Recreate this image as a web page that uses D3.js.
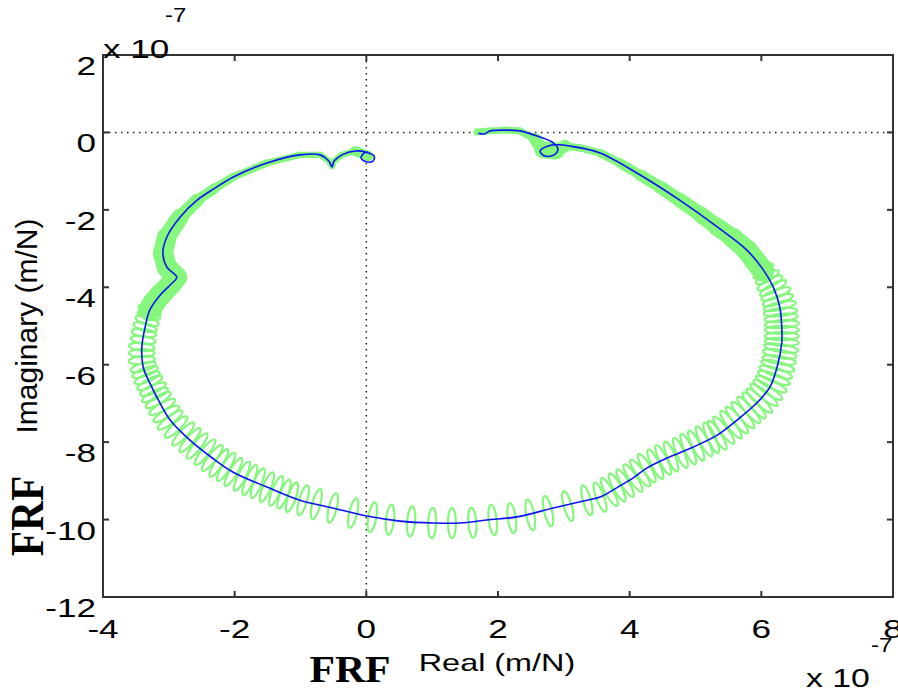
<!DOCTYPE html>
<html>
<head>
<meta charset="utf-8">
<script src="https://cdn.jsdelivr.net/npm/d3@7"></script>
<style>
  body { margin: 0; background: #fff; }
  text { font-family: "Liberation Sans", Arial, sans-serif; fill: #000; }
</style>
</head>
<body>
<svg width="898" height="691"></svg>
<script>
var svg = d3.select("svg");

// axis ticks (values in 1e-7 m/N)
var realTicks = [-4, -2, 0, 2, 4, 6, 8];
var realTickLabels = ["-4", "-2", "0", "2", "4", "6", "8"];
var imagTicks = [-12, -10, -8, -6, -4, -2, 0, 2];
var imagTickLabels = ["-12", "-10", "-8", "-6", "-4", "-2", "0", "2"];

// blue trace: fitted FRF, [real, imag] x 1e-7
var fitCurve = [
  [0.03,-0.51],[-0.03,-0.53],[-0.08,-0.66],[0.00,-0.76],[0.10,-0.74],[0.12,-0.61],[0.00,-0.51],
  [-0.17,-0.48],[-0.37,-0.58],[-0.49,-0.74],[-0.52,-0.89],[-0.57,-0.74],[-0.70,-0.58],[-1.01,-0.58],
  [-1.51,-0.79],[-2.02,-1.15],[-2.30,-1.44],[-2.57,-1.75],[-2.83,-2.19],[-3.03,-2.70],[-3.09,-3.12],
  [-3.03,-3.48],[-2.88,-3.74],[-2.98,-3.94],[-3.13,-4.20],[-3.29,-4.59],[-3.36,-5.03],[-3.41,-5.54],
  [-3.39,-6.06],[-3.29,-6.47],[-3.16,-6.91],[-2.98,-7.43],[-2.68,-7.95],[-2.34,-8.41],[-2.03,-8.77],
  [-1.51,-9.16],[-1.01,-9.50],[-0.51,-9.70],[0.01,-9.91],[0.51,-10.04],[1.01,-10.09],[1.42,-10.09],
  [1.83,-10.01],[2.29,-9.93],[2.84,-9.70],[3.35,-9.50],[3.55,-9.42],[3.85,-9.13],[4.05,-8.93],
  [4.26,-8.67],[4.57,-8.41],[4.96,-8.13],[5.33,-7.82],[5.63,-7.43],[5.93,-6.99],[6.13,-6.58],
  [6.24,-6.06],[6.31,-5.44],[6.31,-5.03],[6.28,-4.51],[6.18,-3.99],[6.03,-3.55],[5.78,-3.04],
  [5.33,-2.44],[4.76,-1.75],[4.16,-1.10],[3.55,-0.53],[3.09,-0.35],[2.91,-0.32],[2.76,-0.35],
  [2.64,-0.48],[2.71,-0.61],[2.85,-0.58],[2.91,-0.43],[2.84,-0.27],[2.64,-0.12],[2.33,0.04],
  [2.11,0.06],[1.88,0.04],[1.79,-0.04],[1.70,-0.02]
];

// green trace: measured FRF, one entry per ripple loop [real, imag, ripple amplitude]
var measLoops = [
  [0.03,-0.61,0.18],[-0.17,-0.48,0.08],[-0.37,-0.58,0.08],[-0.49,-0.74,0.08],[-0.52,-0.87,0.08],
  [-0.57,-0.74,0.08],[-0.70,-0.58,0.08],[-1.01,-0.58,0.08],[-1.51,-0.79,0.09],[-2.02,-1.15,0.10],
  [-2.30,-1.44,0.12],[-2.57,-1.75,0.15],[-2.83,-2.19,0.20],[-3.03,-2.70,0.25],[-3.09,-3.12,0.26],
  [-3.03,-3.48,0.26],[-2.88,-3.74,0.27],[-2.98,-3.94,0.27],[-3.13,-4.20,0.28],[-3.23,-4.41,0.29],
  [-3.29,-4.59,0.30],[-3.30,-4.72,0.30],[-3.33,-4.87,0.31],[-3.36,-5.03,0.31],[-3.38,-5.18,0.32],
  [-3.39,-5.36,0.32],[-3.41,-5.54,0.33],[-3.41,-5.70,0.33],[-3.41,-5.88,0.34],[-3.39,-6.06,0.34],
  [-3.36,-6.19,0.35],[-3.33,-6.34,0.35],[-3.29,-6.47,0.36],[-3.24,-6.63,0.36],[-3.21,-6.78,0.37],
  [-3.16,-6.91,0.37],[-3.10,-7.09,0.38],[-3.04,-7.27,0.38],[-2.98,-7.43,0.39],[-2.89,-7.61,0.39],
  [-2.78,-7.79,0.40],[-2.68,-7.95,0.40],[-2.57,-8.10,0.41],[-2.45,-8.26,0.41],[-2.34,-8.41,0.42],
  [-2.24,-8.54,0.42],[-2.13,-8.64,0.42],[-2.02,-8.77,0.42],[-1.89,-8.88,0.42],[-1.77,-8.98,0.42],
  [-1.65,-9.06,0.41],[-1.51,-9.16,0.41],[-1.37,-9.26,0.41],[-1.25,-9.34,0.40],[-1.13,-9.42,0.40],
  [-0.96,-9.50,0.40],[-0.76,-9.60,0.40],[-0.51,-9.70,0.39],[-0.20,-9.83,0.39],[0.09,-9.94,0.39],
  [0.36,-10.00,0.39],[0.68,-10.05,0.39],[1.00,-10.09,0.39],[1.30,-10.09,0.39],[1.61,-10.08,0.39],
  [1.92,-10.01,0.39],[2.21,-9.96,0.39],[2.49,-9.88,0.40],[2.76,-9.78,0.40],[3.06,-9.65,0.40],
  [3.35,-9.50,0.40],[3.55,-9.42,0.40],[3.69,-9.29,0.41],[3.81,-9.17,0.41],[3.93,-9.06,0.41],
  [4.05,-8.93,0.42],[4.16,-8.80,0.42],[4.26,-8.67,0.42],[4.39,-8.57,0.42],[4.51,-8.46,0.42],
  [4.63,-8.37,0.42],[4.77,-8.28,0.42],[4.89,-8.18,0.43],[5.01,-8.09,0.43],[5.13,-7.98,0.43],
  [5.24,-7.89,0.43],[5.33,-7.82,0.43],[5.43,-7.69,0.43],[5.54,-7.55,0.44],[5.63,-7.43,0.44],
  [5.72,-7.30,0.44],[5.81,-7.17,0.44],[5.89,-7.05,0.44],[5.97,-6.93,0.44],[6.04,-6.78,0.44],
  [6.10,-6.65,0.44],[6.15,-6.50,0.44],[6.19,-6.34,0.44],[6.22,-6.19,0.44],[6.25,-6.03,0.44],
  [6.27,-5.88,0.44],[6.28,-5.72,0.44],[6.30,-5.57,0.44],[6.31,-5.41,0.44],[6.31,-5.26,0.44],
  [6.31,-5.10,0.44],[6.31,-4.95,0.44],[6.30,-4.79,0.43],[6.29,-4.64,0.43],[6.28,-4.48,0.42],
  [6.25,-4.33,0.41],[6.22,-4.17,0.40],[6.18,-4.02,0.38],[6.13,-3.89,0.36],[6.09,-3.74,0.33],
  [6.03,-3.58,0.30],[5.90,-3.30,0.28],[5.78,-3.04,0.27],[5.57,-2.73,0.25],[5.33,-2.44,0.22],
  [5.07,-2.11,0.20],[4.76,-1.75,0.18],[4.46,-1.41,0.16],[4.16,-1.10,0.14],[3.85,-0.79,0.12],
  [3.55,-0.53,0.10],[3.25,-0.40,0.09],[3.02,-0.35,0.10],[2.88,-0.48,0.22],[2.68,-0.45,0.22],
  [2.56,-0.17,0.10],[2.33,0.04,0.09],[2.11,0.06,0.09],[1.88,0.04,0.09],[1.68,0.01,0.09]
];

var plot = { left: 103, top: 55, right: 893, bottom: 597 };
var x = d3.scaleLinear().domain([-4, 8]).range([plot.left, plot.right]);
var y = d3.scaleLinear().domain([-12, 2]).range([plot.bottom, plot.top]);
var pxPerUnit = y(0) - y(1);

var greenColor = "#84f77c";
var axisColor = "#333";

// zero lines (dotted)
svg.append("line")
    .attr("x1", x(0)).attr("x2", x(0))
    .attr("y1", plot.top).attr("y2", plot.bottom)
    .attr("stroke", "#222").attr("stroke-width", 1.5)
    .attr("stroke-dasharray", "1.5,4.5");
svg.append("line")
    .attr("x1", plot.left).attr("x2", plot.right)
    .attr("y1", y(0)).attr("y2", y(0))
    .attr("stroke", "#222").attr("stroke-width", 1.5)
    .attr("stroke-dasharray", "1.5,4.5");

// measured trace: solid band where ripple is small, loops where it is large
var threshold = 0.3;
var gBand = svg.append("g");
var gLoops = svg.append("g");

for (var i = 0; i < measLoops.length - 1; i++) {
    var a = measLoops[i], b = measLoops[i + 1];
    if (Math.min(a[2], b[2]) < threshold) {
        var w = (a[2] < threshold && b[2] < threshold) ? (a[2] + b[2]) : 2 * Math.min(a[2], b[2]);
        gBand.append("line")
            .attr("x1", x(a[0])).attr("y1", y(a[1]))
            .attr("x2", x(b[0])).attr("y2", y(b[1]))
            .attr("stroke", greenColor)
            .attr("stroke-width", w * pxPerUnit)
            .attr("stroke-linecap", "round");
    }
}

measLoops.forEach(function(d, i) {
    if (d[2] < threshold) return;
    var p = measLoops[Math.max(0, i - 1)], n = measLoops[Math.min(measLoops.length - 1, i + 1)];
    var ang = Math.atan2(y(n[1]) - y(p[1]), x(n[0]) - x(p[0])) * 180 / Math.PI;
    var cx = x(d[0]), cy = y(d[1]);
    gLoops.append("ellipse")
        .attr("cx", cx).attr("cy", cy)
        .attr("rx", 4)
        .attr("ry", d[2] * pxPerUnit)
        .attr("transform", "rotate(" + ang + " " + cx + " " + cy + ")")
        .attr("fill", "none")
        .attr("stroke", greenColor)
        .attr("stroke-width", 2.2);
});

// fitted trace
var line = d3.line()
    .x(function(d) { return x(d[0]); })
    .y(function(d) { return y(d[1]); })
    .curve(d3.curveCatmullRom.alpha(0.5));

svg.append("path")
    .datum(fitCurve)
    .attr("d", line)
    .attr("fill", "none")
    .attr("stroke", "#0a14f0")
    .attr("stroke-width", 1.6);

// frame and ticks (inside, all four sides)
svg.append("rect")
    .attr("x", plot.left).attr("y", plot.top)
    .attr("width", plot.right - plot.left).attr("height", plot.bottom - plot.top)
    .attr("fill", "none").attr("stroke", axisColor).attr("stroke-width", 2);

var tickLen = 6;
realTicks.forEach(function(t) {
    svg.append("line").attr("x1", x(t)).attr("x2", x(t))
        .attr("y1", plot.bottom).attr("y2", plot.bottom - tickLen)
        .attr("stroke", axisColor).attr("stroke-width", 2);
    svg.append("line").attr("x1", x(t)).attr("x2", x(t))
        .attr("y1", plot.top).attr("y2", plot.top + tickLen)
        .attr("stroke", axisColor).attr("stroke-width", 2);
});
imagTicks.forEach(function(t) {
    svg.append("line").attr("x1", plot.left).attr("x2", plot.left + tickLen)
        .attr("y1", y(t)).attr("y2", y(t))
        .attr("stroke", axisColor).attr("stroke-width", 2);
    svg.append("line").attr("x1", plot.right).attr("x2", plot.right - tickLen)
        .attr("y1", y(t)).attr("y2", y(t))
        .attr("stroke", axisColor).attr("stroke-width", 2);
});

// text helper: stretched text like the exported figure
function label(str, tx, ty, size, sx, anchor, rot, extra) {
    var t = svg.append("text")
        .attr("transform", "translate(" + tx + "," + ty + ")" + (rot ? " rotate(" + rot + ")" : "") + " scale(" + sx + ",1)")
        .attr("text-anchor", anchor)
        .style("font-size", size + "px")
        .text(str);
    if (extra) extra(t);
    return t;
}

var tickSx = 1.35;
realTicks.forEach(function(t, i) {
    label(realTickLabels[i], x(t), 638, 26, tickSx, "middle");
});
imagTicks.forEach(function(t, i) {
    label(imagTickLabels[i], 96, y(t) + 20, 26, tickSx, "end");
});

// exponent labels
label("x 10", 103, 58, 26, tickSx, "start");
label("-7", 165, 22, 20, 1.2, "start");
label("x 10", 806, 687, 26, 1.3, "start");
label("-7", 871, 652, 20, 1.2, "start");

// axis titles
label("Real (m/N)", 497, 671, 24, 1.35, "middle");
label("Imaginary (m/N)", 37, 326, 30, 1, "middle", -90);

// FRF captions
label("FRF", 350, 682, 38, 1.1, "middle", null, function(t) {
    t.style("font-family", "'Liberation Serif', 'Times New Roman', serif").style("font-weight", "bold");
});
label("FRF", 43, 516, 46, 0.9, "middle", -90, function(t) {
    t.style("font-family", "'Liberation Serif', 'Times New Roman', serif").style("font-weight", "bold");
});
</script>
</body>
</html>
